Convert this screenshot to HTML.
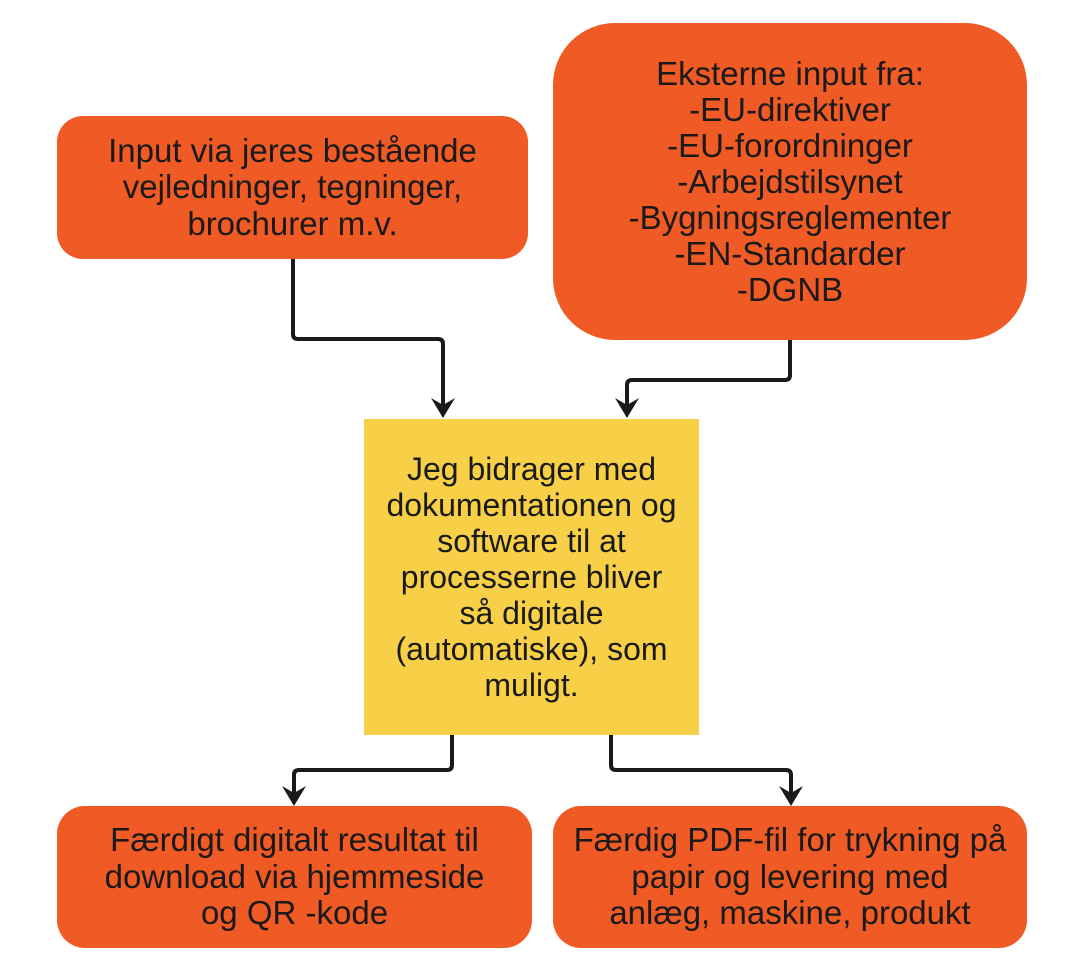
<!DOCTYPE html>
<html><head><meta charset="utf-8"><style>
body{margin:0;width:1084px;height:972px;background:#fff;overflow:hidden;position:relative;font-family:"Liberation Sans",Arial,sans-serif}
.b{position:absolute;background:#F05A24;color:#1a1a1a;display:flex;align-items:center;justify-content:center;text-align:center;font-size:33px;line-height:36.5px;white-space:nowrap}
svg{position:absolute;left:0;top:0}
</style></head><body>
<div class="b" style="left:57px;top:116px;width:471px;height:143px;border-radius:26px">Input via jeres bestående<br>vejledninger, tegninger,<br>brochurer m.v.</div>
<div class="b" style="left:553px;top:23px;width:474px;height:317px;border-radius:62px;line-height:36px">Eksterne input fra:<br>-EU-direktiver<br>-EU-forordninger<br>-Arbejdstilsynet<br>-Bygningsreglementer<br>-EN-Standarder<br>-DGNB</div>
<div class="b" style="left:364px;top:419px;width:335px;height:316px;background:#F8D047;font-size:32px;line-height:36px">Jeg bidrager med<br>dokumentationen og<br>software til at<br>processerne bliver<br>så digitale<br>(automatiske), som<br>muligt.</div>
<div class="b" style="left:57px;top:806px;width:475px;height:142px;border-radius:28px">Færdigt digitalt resultat til<br>download via hjemmeside<br>og QR -kode</div>
<div class="b" style="left:553px;top:806px;width:474px;height:142px;border-radius:28px">Færdig PDF-fil for trykning på<br>papir og levering med<br>anlæg, maskine, produkt</div>
<svg width="1084" height="972" fill="none" stroke="#1a1a1a" stroke-width="4" stroke-linejoin="round">
<path d="M293 259V334q0 5 5 5H438q5 0 5 5V410"/>
<path d="M790 340V375q0 5-5 5H632q-5 0-5 5V410"/>
<path d="M452 735V765q0 5-5 5H299q-5 0-5 5V798"/>
<path d="M611 735V765q0 5 5 5H786q5 0 5 5V798"/>
<g fill="#1a1a1a" stroke="none">
<path d="M431 398l12 20 12-20-12 7z"/>
<path d="M615 398l12 20 12-20-12 7z"/>
<path d="M282 786l12 20 12-20-12 7z"/>
<path d="M779 786l12 20 12-20-12 7z"/>
</g>
</svg>
</body></html>
